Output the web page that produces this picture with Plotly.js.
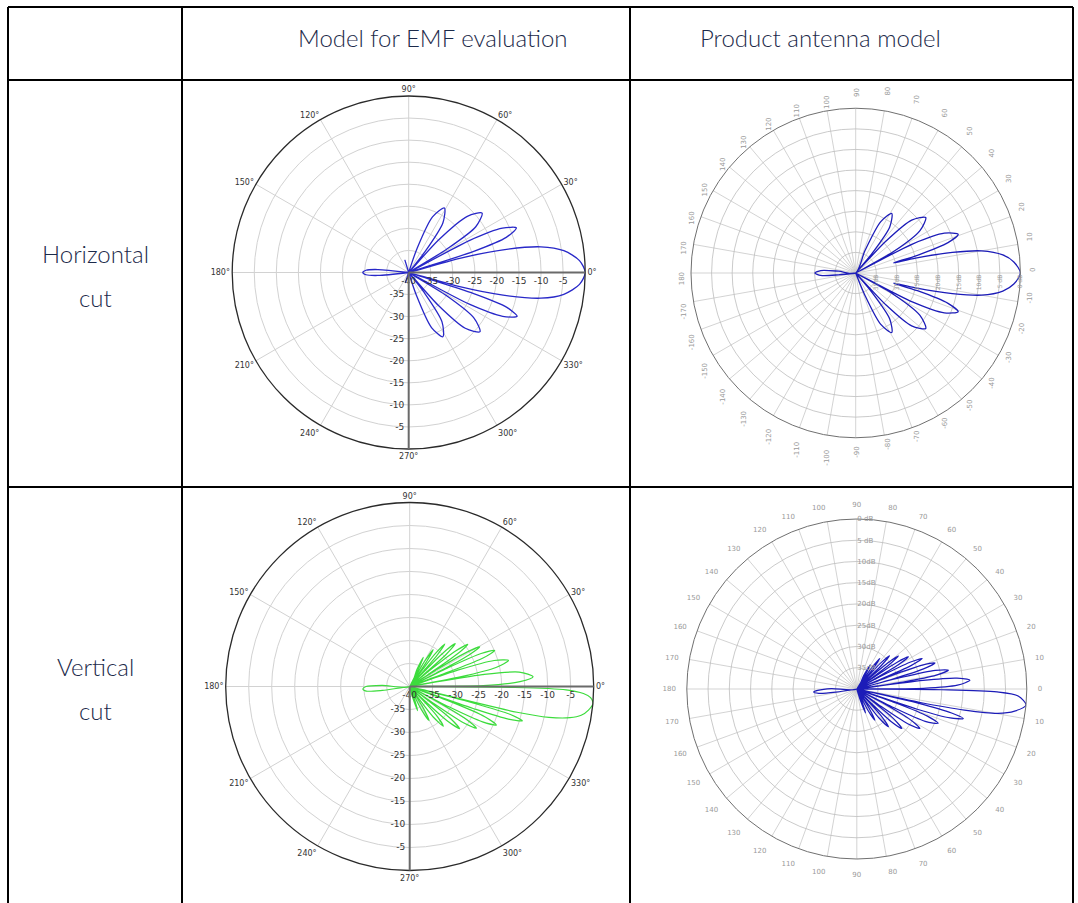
<!DOCTYPE html>
<html><head><meta charset="utf-8">
<script src="https://cdn.plot.ly/plotly-3.0.1.min.js"></script>
<style>html,body{margin:0;padding:0;background:#fff}#chart{width:1078px;height:903px}</style>
</head><body><div id="chart"></div>
<script>
// ---------- text ----------
const headerLabels = ["Model for EMF evaluation", "Product antenna model"];
const rowLabelsH = ["Horizontal", "cut"];
const rowLabelsV = ["Vertical", "cut"];

// ---------- ticks ----------
const emfAngleTicks = [0,30,60,90,120,150,180,210,240,270,300,330];
const emfAngleText = ["0°","30°","60°","90°","120°","150°","180°","210°","240°","270°","300°","330°"];
const emfRadialTicks = [-40,-35,-30,-25,-20,-15,-10,-5];
const emfRadialText = ["-40","-35","-30","-25","-20","-15","-10","-5"];
const emfRadialTicks2 = [-35,-30,-25,-20,-15,-10,-5];
const emfRadialText2 = ["-35","-30","-25","-20","-15","-10","-5"];

const prodAngleTicks = [0,10,20,30,40,50,60,70,80,90,100,110,120,130,140,150,160,170,180,190,200,210,220,230,240,250,260,270,280,290,300,310,320,330,340,350];
const prodHAngleText = ["0","10","20","30","40","50","60","70","80","90","100","110","120","130","140","150","160","170","180","-170","-160","-150","-140","-130","-120","-110","-100","-90","-80","-70","-60","-50","-40","-30","-20","-10"];
const prodVAngleText = ["0","10","20","30","40","50","60","70","80","90","100","110","120","130","140","150","160","170","180","170","160","150","140","130","120","110","100","90","80","70","60","50","40","30","20","10"];
const prodRadialTicks = [-35,-30,-25,-20,-15,-10,-5,0];
const prodRadialText = ["35dB","30dB","25dB","20dB","15dB","10dB","5 dB","0 dB"];

// ---------- pattern data (dB) ----------
const emfHTheta = [-180,-177,-174.5,-172,-113,-108,-103,
  -73,-71.3,-67.5,-62,-56,-52.2,-50,
  -48,-44.6,-39.7,-34.9,-31.5,-30,
  -27.6,-25,-22,-19.5,-18,-17,
  -15.5,-13.5,-11,-8,-4,0,4,8,11,13.5,15.5,17,
  18,19.8,22.5,25.3,27.8,29.5,
  31.5,34.3,39,43.8,47.5,49,
  51.8,55.5,61,66.8,70.8,73,
  102,107,112,172,174.5,177,180];
const emfHR = [-29.6,-30.3,-33,-40,-40,-37.5,-40,
  -40,-34.5,-26.5,-23.5,-26.5,-34.5,-40,
  -30,-22,-19,-22,-30,-40,
  -24.5,-16.5,-13.5,-16.5,-24.5,-40,
  -28,-18,-9.5,-4.5,-1.2,0,-1.2,-4.5,-9.5,-18,-28,-40,
  -24.5,-16.5,-13.6,-16.5,-24.5,-40,
  -30,-21.6,-18.6,-21.6,-30,-40,
  -34.3,-26.3,-23.3,-26.3,-34.3,-40,
  -40,-37,-40,-40,-33,-30.3,-29.6];

const emfVTheta = [176,177.5,180,-177,-174,-172,-170.5,
  -78,-75,-72,-69,-66,
  -63.2,-60.5,-57.8,-55,
  -54.2,-52.4,-49.7,-47.1,-45.3,-44.5,
  -43.9,-42.4,-40.2,-38.1,-36.6,-36,
  -35.4,-34,-32,-30,-28.6,-28,
  -27.4,-25.9,-23.9,-21.9,-20.4,-19.8,
  -19.1,-18.3,-16.9,-15.5,-14.6,-14.3,
  -13.5,-12.5,-11,-9.5,-7.5,-5.2,-3.5,-2.3,-1.2,-0.5,0,
  0.75,2.5,4.5,7.5,9.25,10,
  10.7,12.4,14.8,17.1,18.8,19.5,
  20.5,21.2,23,24.8,26,26.5,
  27,28,29.5,31,32,32.5,
  33,34.3,36,37.7,39,39.5,
  40,41.4,43.3,45.1,46.4,47,
  47.5,48.8,50.5,52.2,53.5,54,
  55.7,57.5,59.3,61,
  63,65,67,69];
const emfVR = [-40,-34,-30.5,-29.8,-30.5,-34,-40,
  -40,-37.5,-34.5,-37.5,-40,
  -34.5,-31.5,-34.5,-40,
  -39.7,-31.7,-28.7,-31.7,-39.7,-40,
  -36.8,-28.8,-25.8,-28.8,-36.8,-40,
  -33.9,-25.9,-22.9,-25.9,-33.9,-40,
  -30.4,-22.4,-19.4,-22.4,-30.4,-40,
  -25.4,-17.4,-14.4,-17.4,-25.4,-40,
  -16,-9,-4.5,-2.2,-0.8,0,-0.6,-2.2,-6,-18,-40,
  -24,-16,-13.1,-16,-24,-40,
  -28.8,-20.8,-17.8,-20.8,-28.8,-40,
  -30.9,-22.9,-19.9,-22.9,-30.9,-40,
  -33.5,-25.5,-22.5,-25.5,-33.5,-40,
  -35.4,-27.4,-24.4,-27.4,-35.4,-40,
  -37.4,-29.4,-26.4,-29.4,-37.4,-40,
  -39,-31,-28,-31,-39,-40,
  -33.5,-30.5,-33.5,-40,
  -36,-33,-36,-40];

const prodHTheta = [172,174,176,180,-176,-174,-172,
  -70,-67.5,-64,-58.8,-53.5,-50,-48,
  -46.5,-43.4,-38.4,-33.4,-29.5,-28,
  -27,-24.2,-20.7,-18.2,-16,-15,
  -14,-12,-10,-7,-4,0,4,7,10,12,14,15,
  16,18.2,20.7,24.2,27,28,
  29.5,33.4,38.4,43.4,46.5,48,
  50,53.5,58.8,64,67.5,70];
const prodHR = [-40,-35.8,-31.5,-30.1,-31.5,-35.8,-40,
  -40,-34.1,-26.1,-23.1,-26.1,-34.1,-40,
  -29.3,-21.3,-18.3,-21.3,-29.3,-40,
  -24.4,-16.4,-13.4,-16.4,-24.4,-30.5,
  -25,-16,-9,-4,-1.5,0,-1.5,-4,-9,-16,-25,-30.5,
  -24.4,-16.4,-13.4,-16.4,-24.4,-40,
  -29.3,-21.3,-18.3,-21.3,-29.3,-40,
  -34.1,-26.1,-23.1,-26.1,-34.1,-40];

const prodVTheta = [177,179,-178,-176,-173.5,-171.5,-170,
  -75,-72.5,-70,-67.5,-65,
  -62.5,-60,-57.5,-55,
  -54.2,-52.5,-50,-47.8,-46.3,-45.5,
  -44.8,-43.5,-41.3,-38.9,-37.2,-36.5,
  -35.8,-34.3,-32,-29.8,-28.2,-27.5,
  -26.8,-25.3,-22.9,-21,-19.6,-19,
  -18.5,-17.2,-15.5,-14.2,-13,-12.5,
  -12,-11.1,-9.8,-8,-5.4,-2.5,-1.2,-0.5,0,
  0.6,2.2,4.4,6.2,7.4,8,
  8.5,9.9,11.6,13.3,14.5,15,
  15.5,16.8,18.4,20,21.2,21.7,
  22.2,23.4,25,26.7,28,28.5,
  29,30.2,31.9,33.6,34.7,35.2,
  35.7,36.9,38.5,40.2,41.5,42,
  43.8,45.5,47.5,49.5,
  51.3,53,55,57,
  59,61,63,65];
const prodVR = [-40,-34,-30.8,-29.8,-31,-35,-40,
  -40,-37,-34,-37,-40,
  -34.5,-31.5,-34.5,-40,
  -39.4,-31.4,-28.4,-31.4,-39.4,-40,
  -36.9,-28.9,-25.9,-28.9,-36.9,-40,
  -33.5,-25.5,-22.5,-25.5,-33.5,-40,
  -30.2,-22.2,-19.2,-22.2,-30.2,-40,
  -25,-17,-14,-17,-25,-40,
  -25,-14.2,-6.3,-2.5,0,-2,-7,-20,-40,
  -24.3,-16.3,-13.3,-16.3,-24.3,-40,
  -29,-21,-18,-21,-29,-40,
  -31.6,-23.6,-20.6,-23.6,-31.6,-40,
  -34,-26,-23,-26,-34,-40,
  -36.7,-28.7,-25.7,-28.7,-36.7,-40,
  -38.5,-30.5,-27.5,-30.5,-38.5,-40,
  -32,-29,-32,-40,
  -34,-31,-34,-40,
  -36.5,-33.5,-36.5,-40];

// ---------- layout helpers (styles / positions only) ----------
const W = 1078, H = 903;
function dom(cx, cy, R) {
  return {x: [(cx - R) / W, (cx + R) / W], y: [1 - (cy + R) / H, 1 - (cy - R) / H]};
}
function px(x) { return x / W; }
function py(y) { return 1 - y / H; }

function emfPolar(d) {
  return {
    domain: d, bgcolor: 'rgba(0,0,0,0)',
    angularaxis: {rotation: 0, direction: 'counterclockwise', tickmode: 'array',
      tickvals: emfAngleTicks, ticktext: emfAngleText, showline: true, linecolor: '#2a2a2a',
      linewidth: 1.3, showgrid: true, gridcolor: '#d2d2d2', gridwidth: 1, ticks: '',
      tickfont: {size: 8, color: '#333', family: 'DejaVu Sans'}},
    radialaxis: {range: [-40, 0], angle: 0, tickmode: 'array', tickvals: emfRadialTicks,
      ticktext: emfRadialText, showline: true, linecolor: '#6a6a6a', linewidth: 2,
      showgrid: true, gridcolor: '#d2d2d2', gridwidth: 1, ticks: '', side: 'clockwise',
      tickfont: {size: 9, color: '#333', family: 'DejaVu Sans'}}
  };
}
function emfOverlay(d) {
  return {
    domain: d, bgcolor: 'rgba(0,0,0,0)',
    angularaxis: {showline: false, showgrid: false, showticklabels: false, ticks: ''},
    radialaxis: {range: [-40, 0], angle: -90, tickmode: 'array', tickvals: emfRadialTicks2,
      ticktext: emfRadialText2, showline: true, linecolor: '#6a6a6a', linewidth: 2,
      showgrid: false, ticks: '', side: 'clockwise', tickangle: -90,
      tickfont: {size: 9, color: '#333', family: 'DejaVu Sans'}}
  };
}
function prodPolar(d, angText, radAngle, radTickAngle, angTickAngle, radSize) {
  return {
    domain: d, bgcolor: 'rgba(0,0,0,0)',
    angularaxis: {rotation: 0, direction: 'counterclockwise', tickmode: 'array',
      tickvals: prodAngleTicks, ticktext: angText, showline: true, linecolor: '#707070',
      linewidth: 1, showgrid: true, gridcolor: '#c8c8c8', gridwidth: 0.8, ticks: 'outside',
      ticklen: 9, tickcolor: 'rgba(0,0,0,0)', tickangle: angTickAngle,
      tickfont: {size: 7, color: '#9a9a9a', family: 'DejaVu Sans'}},
    radialaxis: {range: [-40, 0], angle: radAngle, tickmode: 'array', tickvals: prodRadialTicks,
      ticktext: prodRadialText, showline: false, showgrid: true, gridcolor: '#bcbcbc',
      gridwidth: 0.8, ticks: '', tickangle: radTickAngle,
      tickfont: {size: radSize, color: '#9a9a9a', family: 'DejaVu Sans'}}
  };
}

const d1 = dom(408.7, 272.5, 176.5);
const d2 = dom(855.7, 273.0, 164.7);
const d3 = dom(409.7, 686.5, 184.0);
const d4 = dom(856.8, 689.0, 170.0);

const lineSpline = (c, w) => ({color: c, width: w, shape: 'spline', smoothing: 0.8});
const traces = [
  {type: 'scatterpolar', mode: 'lines', r: emfHR, theta: emfHTheta, subplot: 'polar',
   line: lineSpline('#2828c8', 1.3), hoverinfo: 'skip', showlegend: false},
  {type: 'scatterpolar', mode: 'lines', r: prodHR, theta: prodHTheta, subplot: 'polar2',
   line: lineSpline('#1c1cb8', 1.3), hoverinfo: 'skip', showlegend: false},
  {type: 'scatterpolar', mode: 'lines', r: emfVR, theta: emfVTheta, subplot: 'polar3',
   line: lineSpline('#3cdc3c', 1.2), hoverinfo: 'skip', showlegend: false},
  {type: 'scatterpolar', mode: 'lines', r: prodVR, theta: prodVTheta, subplot: 'polar4',
   line: lineSpline('#1c1cb8', 1.2), hoverinfo: 'skip', showlegend: false},
  {type: 'scatterpolar', mode: 'lines', r: [], theta: [], subplot: 'polar5', hoverinfo: 'skip', showlegend: false},
  {type: 'scatterpolar', mode: 'lines', r: [], theta: [], subplot: 'polar6', hoverinfo: 'skip', showlegend: false}
];

// table grid (pixel positions of the rules)
const tableX = [8, 182, 630, 1073];
const tableY = [7, 80, 487];
const shapes = [];
tableX.forEach(x => shapes.push({type: 'line', xref: 'paper', yref: 'paper',
  x0: px(x), x1: px(x), y0: py(tableY[0]), y1: 0, line: {color: '#000', width: 2}}));
tableY.forEach(y => shapes.push({type: 'line', xref: 'paper', yref: 'paper',
  x0: px(tableX[0]), x1: px(tableX[3]), y0: py(y), y1: py(y), line: {color: '#000', width: 2}}));

const txtFont = {family: 'Lato, "Open Sans", sans-serif', size: 24, color: '#1c2a4a', weight: 300};
function ann(text, x, y) {
  return {text: text, xref: 'paper', yref: 'paper', x: px(x), y: py(y), xanchor: 'center',
    yanchor: 'middle', showarrow: false, font: txtFont};
}
const annotations = [
  ann(headerLabels[0], 432, 38),
  ann(headerLabels[1], 820, 38),
  ann(rowLabelsH[0], 95, 253),
  ann(rowLabelsH[1], 95, 297),
  ann(rowLabelsV[0], 95, 666),
  ann(rowLabelsV[1], 95, 710)
];

const layout = {
  width: W, height: H, margin: {l: 0, r: 0, t: 0, b: 0},
  paper_bgcolor: '#fff', showlegend: false,
  polar: emfPolar(d1),
  polar2: prodPolar(d2, prodHAngleText, 0, -90, -90, 6),
  polar3: emfPolar(d3),
  polar4: prodPolar(d4, prodVAngleText, 90, 90, 0, 7),
  polar5: emfOverlay(d1),
  polar6: emfOverlay(d3),
  shapes: shapes,
  annotations: annotations
};

Plotly.newPlot('chart', traces, layout, {staticPlot: true, displayModeBar: false});
</script></body></html>
